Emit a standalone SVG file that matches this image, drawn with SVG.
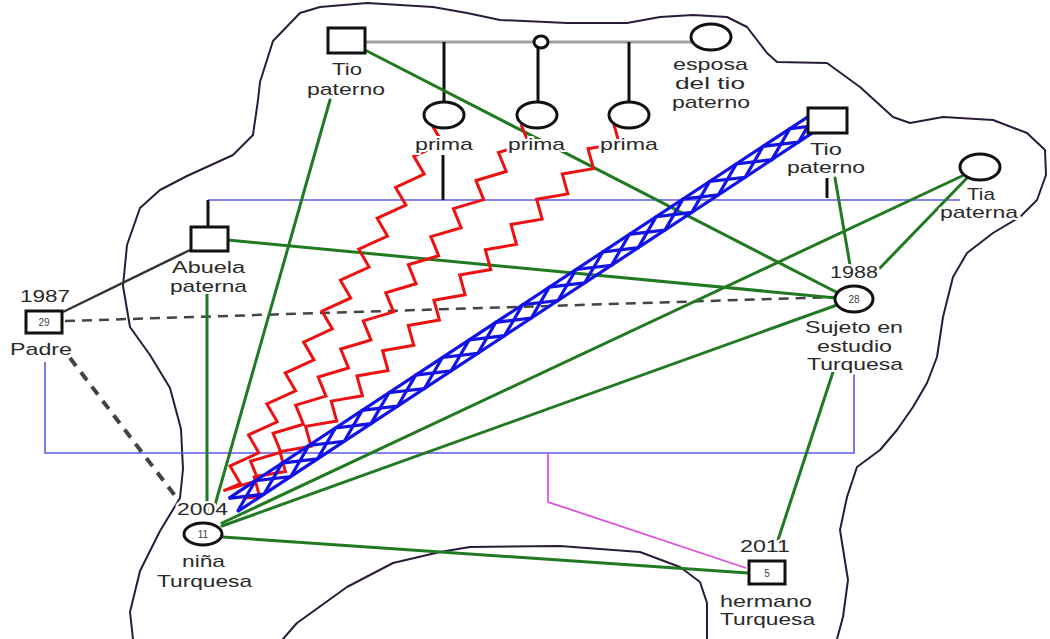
<svg xmlns="http://www.w3.org/2000/svg" width="1050" height="639" viewBox="0 0 1050 639">
<style>
.bg{fill:#fff}
.outline{fill:none;stroke:#2b1b3b;stroke-width:2;stroke-linejoin:round}
.g{stroke:#217a21;stroke-width:3;fill:none;stroke-linecap:round}
.blk{stroke:#111;stroke-width:3;fill:none}
.thinblue{stroke:#5a5aee;stroke-width:1.6;fill:none}
.zz{stroke:#ee1111;stroke-width:3;fill:none;stroke-linejoin:miter}
.lat{stroke:#1212e6;stroke-width:3.2;fill:none}
.sq{fill:#fff;stroke:#111;stroke-width:3}
.ci{fill:#fff;stroke:#111;stroke-width:3}
.lbl{font-family:"Liberation Sans",Arial,sans-serif;font-size:17px;fill:#2a2a2a;stroke:#fff;stroke-width:4;stroke-linejoin:round;paint-order:stroke}
.num{font-family:"Liberation Sans",Arial,sans-serif;font-size:10px;fill:#444;text-anchor:middle}
</style>
<rect class="bg" x="0" y="0" width="1050" height="639"/>
<path id="outline" class="outline" d="M133,660 L133,639 L130,612 L140,571 L160,531 L180,498 L183,469 L181,429 L170,388 L150,355 L130,327 L123,286 L127,245 L140,208 L160,190 L187,176 L233,155 L253,135 L258,100 L260,82 L273,41 L300,13 L320,7 L367,3 L433,7 L467,13 L500,20 L567,23 L627,23 L660,17 L693,15 L727,17 L747,27 L767,53 L777,62 L827,63 L860,87 L893,117 L910,123 L943,117 L993,120 L1027,133 L1045,150 L1046,175 L1037,200 L1020,217 L993,233 L967,253 L953,277 L943,317 L937,357 L927,383 L913,407 L897,430 L880,450 L857,467 L847,497 L840,530 L848,580 L843,617 L837,639 L837,660 L707,660 L707,630 L707,603 L700,582 L680,567 L640,552 L560,546 L470,547 L440,552 L393,563 L347,587 L297,623 L283,639 L283,660 Z"/>
<g id="connectors">
  <line x1="365" y1="42" x2="691" y2="42" stroke="#a0a0a0" stroke-width="3"/>
  <line class="blk" x1="444" y1="42" x2="444" y2="102"/>
  <line class="blk" x1="538" y1="48" x2="538" y2="102"/>
  <line class="blk" x1="629" y1="42" x2="629" y2="102"/>
  <line class="thinblue" x1="208" y1="200" x2="960" y2="200" stroke-width="2.2"/>
  <line class="blk" x1="208" y1="200" x2="208" y2="227"/>
  <line class="blk" x1="443" y1="155" x2="443" y2="200"/>
  <line class="blk" x1="827" y1="178" x2="827" y2="198"/>
  <path class="thinblue" d="M45,362 V453 H854 V374"/>
  <path d="M548,453 V502 L746,568" stroke="#e050e0" stroke-width="1.8" fill="none"/>
  <line x1="190" y1="250" x2="63" y2="312" stroke="#333" stroke-width="2.5"/>
  <line x1="65" y1="321" x2="836" y2="297" stroke="#444" stroke-width="2.5" stroke-dasharray="10,7"/>
  <line x1="70" y1="358" x2="176" y2="497" stroke="#444" stroke-width="4" stroke-dasharray="10,8"/>
  <line class="g" x1="207" y1="293" x2="207" y2="514"/>
  <line class="g" x1="330" y1="100" x2="213" y2="512"/>
  <line class="g" x1="365" y1="50" x2="838" y2="293"/>
  <line class="g" x1="228" y1="240" x2="836" y2="298"/>
  <line class="g" x1="835" y1="178" x2="850" y2="265"/>
  <line class="g" x1="967" y1="178" x2="880" y2="268"/>
  <line class="g" x1="962" y1="176" x2="222" y2="523"/>
  <line class="g" x1="837" y1="305" x2="222" y2="526"/>
  <line class="g" x1="222" y1="537" x2="748" y2="573"/>
  <line class="g" x1="833" y1="372" x2="778" y2="540"/>
  <g class="zz" transform="translate(440,130) rotate(120.7)">
    <polyline points="0,9 10,-9 36,9 46,-9 72,9 82,-9 108,9 118,-9 144,9 154,-9 180,9 190,-9 216,9 226,-9 252,9 262,-9 288,9 298,-9 324,9 334,-9 360,9 370,-9 396,9 406,-9 421,2"/>
  </g>
  <g class="zz" transform="translate(528,130) rotate(128.75)">
    <polyline points="0,9 10,-9 36,9 46,-9 72,9 82,-9 108,9 118,-9 144,9 154,-9 180,9 190,-9 216,9 226,-9 252,9 262,-9 288,9 298,-9 324,9 334,-9 360,9 370,-9 396,9 406,-9 432,9 442,-9 468,9"/>
  </g>
  <g class="zz" transform="translate(620,130) rotate(135.5)">
    <polyline points="0,9 10,-9 36,9 46,-9 72,9 82,-9 108,9 118,-9 144,9 154,-9 180,9 190,-9 216,9 226,-9 252,9 262,-9 288,9 298,-9 324,9 334,-9 360,9 370,-9 396,9 406,-9 432,9 442,-9 468,9 478,-9 504,9 514,-9 525,0"/>
  </g>
  <g class="lat" transform="translate(233,505) rotate(-33.37)">
    <line x1="0" y1="-8" x2="704" y2="-8"/>
    <line x1="0" y1="8" x2="704" y2="8"/>
    <polyline points="0,-8 32,8 64,-8 96,8 128,-8 160,8 192,-8 224,8 256,-8 288,8 320,-8 352,8 384,-8 416,8 448,-8 480,8 512,-8 544,8 576,-8 608,8 640,-8 672,8 704,-8"/>
    <polyline points="0,8 32,-8 64,8 96,-8 128,8 160,-8 192,8 224,-8 256,8 288,-8 320,8 352,-8 384,8 416,-8 448,8 480,-8 512,8 544,-8 576,8 608,-8 640,8 672,-8 704,8"/>
  </g>
</g>
<g id="tio-paterno-1">
  <rect class="sq" x="328" y="28" width="37" height="25"/>
  <text class="lbl" x="332" y="75" textLength="30" lengthAdjust="spacingAndGlyphs">Tio</text>
  <text class="lbl" x="307" y="95" textLength="78" lengthAdjust="spacingAndGlyphs">paterno</text>
</g>
<g id="union-marker">
  <ellipse class="ci" cx="541" cy="42" rx="7" ry="6" stroke-width="2"/>
</g>
<g id="esposa">
  <ellipse class="ci" cx="711" cy="37" rx="20" ry="13"/>
  <text class="lbl" x="673" y="70" textLength="75" lengthAdjust="spacingAndGlyphs">esposa</text>
  <text class="lbl" x="675" y="89" textLength="70" lengthAdjust="spacingAndGlyphs">del tio</text>
  <text class="lbl" x="672" y="108" textLength="78" lengthAdjust="spacingAndGlyphs">paterno</text>
</g>
<g id="prima-1">
  <ellipse class="ci" cx="444" cy="115" rx="20" ry="13"/>
  <text class="lbl" x="415" y="150" textLength="58" lengthAdjust="spacingAndGlyphs">prima</text>
</g>
<g id="prima-2">
  <ellipse class="ci" cx="537" cy="115" rx="20" ry="13"/>
  <text class="lbl" x="508" y="150" textLength="57" lengthAdjust="spacingAndGlyphs">prima</text>
</g>
<g id="prima-3">
  <ellipse class="ci" cx="629" cy="115" rx="20" ry="13"/>
  <text class="lbl" x="600" y="150" textLength="58" lengthAdjust="spacingAndGlyphs">prima</text>
</g>
<g id="tio-paterno-2">
  <rect class="sq" x="808" y="108" width="39" height="25"/>
  <text class="lbl" x="810" y="155" textLength="32" lengthAdjust="spacingAndGlyphs">Tio</text>
  <text class="lbl" x="787" y="173" textLength="78" lengthAdjust="spacingAndGlyphs">paterno</text>
</g>
<g id="tia-paterna">
  <ellipse class="ci" cx="980" cy="167" rx="20" ry="13"/>
  <text class="lbl" x="967" y="200" textLength="28" lengthAdjust="spacingAndGlyphs">Tia</text>
  <text class="lbl" x="940" y="218" textLength="78" lengthAdjust="spacingAndGlyphs">paterna</text>
</g>
<g id="sujeto">
  <text class="lbl" x="830" y="278" textLength="48" lengthAdjust="spacingAndGlyphs">1988</text>
  <ellipse class="ci" cx="854" cy="299" rx="19" ry="13"/>
  <text class="num" x="854" y="303">28</text>
  <text class="lbl" x="805" y="333" textLength="98" lengthAdjust="spacingAndGlyphs">Sujeto en</text>
  <text class="lbl" x="817" y="352" textLength="75" lengthAdjust="spacingAndGlyphs">estudio</text>
  <text class="lbl" x="807" y="370" textLength="96" lengthAdjust="spacingAndGlyphs">Turquesa</text>
</g>
<g id="abuela">
  <rect class="sq" x="191" y="227" width="37" height="24"/>
  <text class="lbl" x="172" y="273" textLength="73" lengthAdjust="spacingAndGlyphs">Abuela</text>
  <text class="lbl" x="170" y="292" textLength="77" lengthAdjust="spacingAndGlyphs">paterna</text>
</g>
<g id="padre">
  <text class="lbl" x="20" y="302" textLength="50" lengthAdjust="spacingAndGlyphs">1987</text>
  <rect class="sq" x="26" y="311" width="36" height="22" stroke-width="4"/>
  <text class="num" x="44" y="326">29</text>
  <text class="lbl" x="10" y="355" textLength="62" lengthAdjust="spacingAndGlyphs">Padre</text>
</g>
<g id="nina">
  <text class="lbl" x="177" y="515" textLength="51" lengthAdjust="spacingAndGlyphs">2004</text>
  <ellipse class="ci" cx="203" cy="534" rx="19" ry="11"/>
  <text class="num" x="203" y="538">11</text>
  <text class="lbl" x="182" y="567" textLength="43" lengthAdjust="spacingAndGlyphs">niña</text>
  <text class="lbl" x="157" y="587" textLength="95" lengthAdjust="spacingAndGlyphs">Turquesa</text>
</g>
<g id="hermano">
  <text class="lbl" x="740" y="552" textLength="50" lengthAdjust="spacingAndGlyphs">2011</text>
  <rect class="sq" x="749" y="561" width="36" height="23" stroke-width="4"/>
  <text class="num" x="767" y="577">5</text>
  <text class="lbl" x="720" y="607" textLength="92" lengthAdjust="spacingAndGlyphs">hermano</text>
  <text class="lbl" x="720" y="625" textLength="95" lengthAdjust="spacingAndGlyphs">Turquesa</text>
</g>
</svg>
